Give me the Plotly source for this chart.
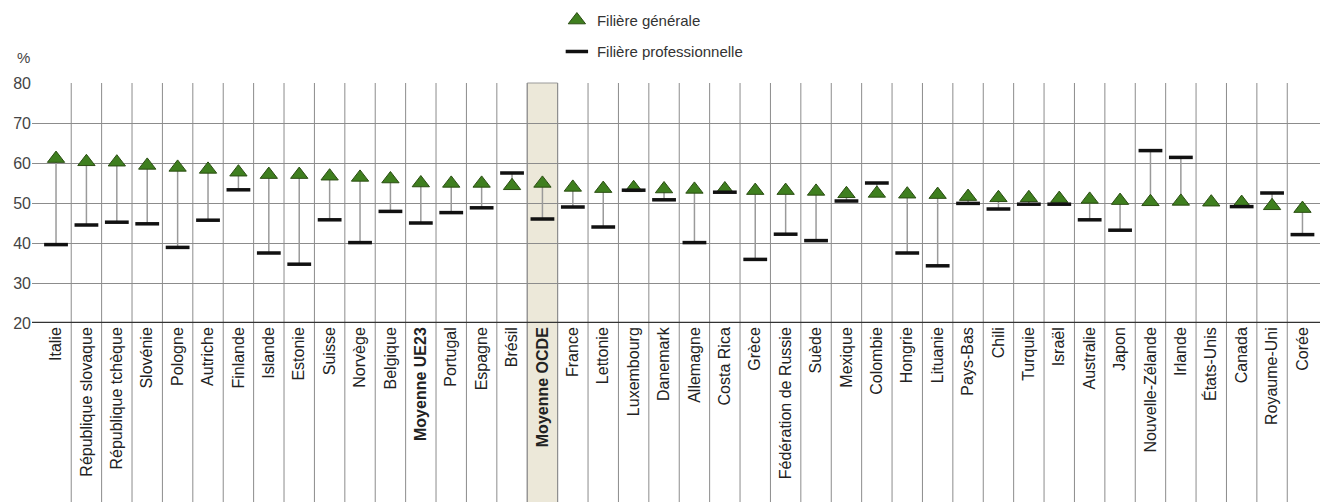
import plotly.graph_objects as go

countries = [
    "Italie", "République slovaque", "République tchèque", "Slovénie", "Pologne",
    "Autriche", "Finlande", "Islande", "Estonie", "Suisse", "Norvège", "Belgique",
    "Moyenne UE23", "Portugal", "Espagne", "Brésil", "Moyenne OCDE", "France",
    "Lettonie", "Luxembourg", "Danemark", "Allemagne", "Costa Rica", "Grèce",
    "Fédération de Russie", "Suède", "Mexique", "Colombie", "Hongrie", "Lituanie",
    "Pays-Bas", "Chili", "Turquie", "Israël", "Australie", "Japon",
    "Nouvelle-Zélande", "Irlande", "États-Unis", "Canada", "Royaume-Uni", "Corée",
]
general = [
    61.1, 60.3, 60.2, 59.4, 58.9, 58.4, 57.7, 57.1, 57.1, 56.7, 56.4, 56.0,
    55.0, 54.9, 54.9, 54.3, 54.9, 53.9, 53.6, 53.8, 53.5, 53.4, 53.5, 53.1,
    53.1, 52.9, 52.3, 52.4, 52.2, 52.1, 51.6, 51.3, 51.3, 51.1, 50.9, 50.6,
    50.3, 50.4, 50.2, 50.1, 49.3, 48.6,
]
vocational = [
    39.6, 44.5, 45.2, 44.8, 38.9, 45.7, 53.3, 37.5, 34.7, 45.8, 40.1, 47.9,
    45.0, 47.6, 48.8, 57.5, 46.0, 49.0, 44.0, 53.2, 50.8, 40.1, 52.7, 35.9,
    42.2, 40.6, 50.5, 55.0, 37.5, 34.3, 49.9, 48.5, 49.7, 49.7, 45.8, 43.2,
    63.1, 61.4, None, 49.1, 52.5, 42.1,
]
bold_labels = ["Moyenne UE23", "Moyenne OCDE"]
highlight = "Moyenne OCDE"

x_pos = list(range(len(countries)))
tick_text = [f"<b>{c}</b>" if c in bold_labels else c for c in countries]

# gray connectors between the two tracks
line_x, line_y = [], []
for i, (g, v) in enumerate(zip(general, vocational)):
    if v is None:
        continue
    line_x += [i, i, None]
    line_y += [g, v, None]

fig = go.Figure()
fig.add_trace(
    go.Scatter(
        x=line_x, y=line_y, mode="lines",
        line={"color": "#9a9a9a", "width": 1.5},
        showlegend=False, hoverinfo="skip",
    )
)
fig.add_trace(
    go.Scatter(
        x=x_pos, y=general, mode="markers", name="Filière générale",
        legendgroup="g",
        marker={"symbol": "triangle-up", "size": 15, "color": "#3f7f1f",
                "line": {"color": "#2a4d12", "width": 1}},
    )
)
fig.add_trace(
    go.Scatter(
        x=x_pos, y=vocational, mode="markers", name="Filière professionnelle",
        legendgroup="v",
        marker={"symbol": "line-ew", "size": 17,
                "line": {"color": "#111111", "width": 3.5}},
    )
)

shapes = []
hi = countries.index(highlight)
shapes.append(dict(
    type="rect", xref="x", yref="paper", x0=hi - 0.5, x1=hi + 0.5, y0=-0.8, y1=1,
    fillcolor="#ece8d9", line={"color": "#9a9a9a", "width": 1}, layer="below",
))
for i in range(len(countries) - 1):
    shapes.append(dict(
        type="line", xref="x", yref="paper", x0=i + 0.5, x1=i + 0.5, y0=-0.8, y1=1,
        line={"color": "#8c8c8c", "width": 1}, layer="below",
    ))
shapes.append(dict(
    type="line", xref="paper", yref="y", x0=0, x1=1, y0=20, y1=20,
    line={"color": "#333333", "width": 2.5}, layer="above",
))

fig.update_layout(
    width=1320, height=494,
    margin={"l": 24, "r": 0, "t": 75, "b": 179, "autoexpand": False},
    plot_bgcolor="white", paper_bgcolor="white",
    font={"family": "Liberation Sans, Arial, sans-serif", "color": "#222222"},
    shapes=shapes,
    showlegend=True,
    legend={"x": 0.405, "y": 1.33, "xanchor": "left", "yanchor": "top",
            "font": {"size": 15, "color": "#333333"}, "tracegroupgap": 9,
            "bgcolor": "rgba(0,0,0,0)"},
    annotations=[dict(text="%", xref="paper", yref="paper", x=-0.013, y=1.15,
                      showarrow=False, font={"size": 15, "color": "#444444"})],
)
fig.update_xaxes(
    range=[-0.79, 41.84], tickmode="array", tickvals=x_pos, ticktext=tick_text,
    tickangle=-90, tickfont={"size": 16, "color": "#222222"},
    showgrid=False, zeroline=False, ticks="",
)
fig.update_yaxes(
    range=[20, 80], dtick=10, showgrid=True, gridcolor="#8c8c8c", gridwidth=1,
    zeroline=False, ticks="", tickfont={"size": 16, "color": "#444444"},
)

fig.write_html("out.html")
